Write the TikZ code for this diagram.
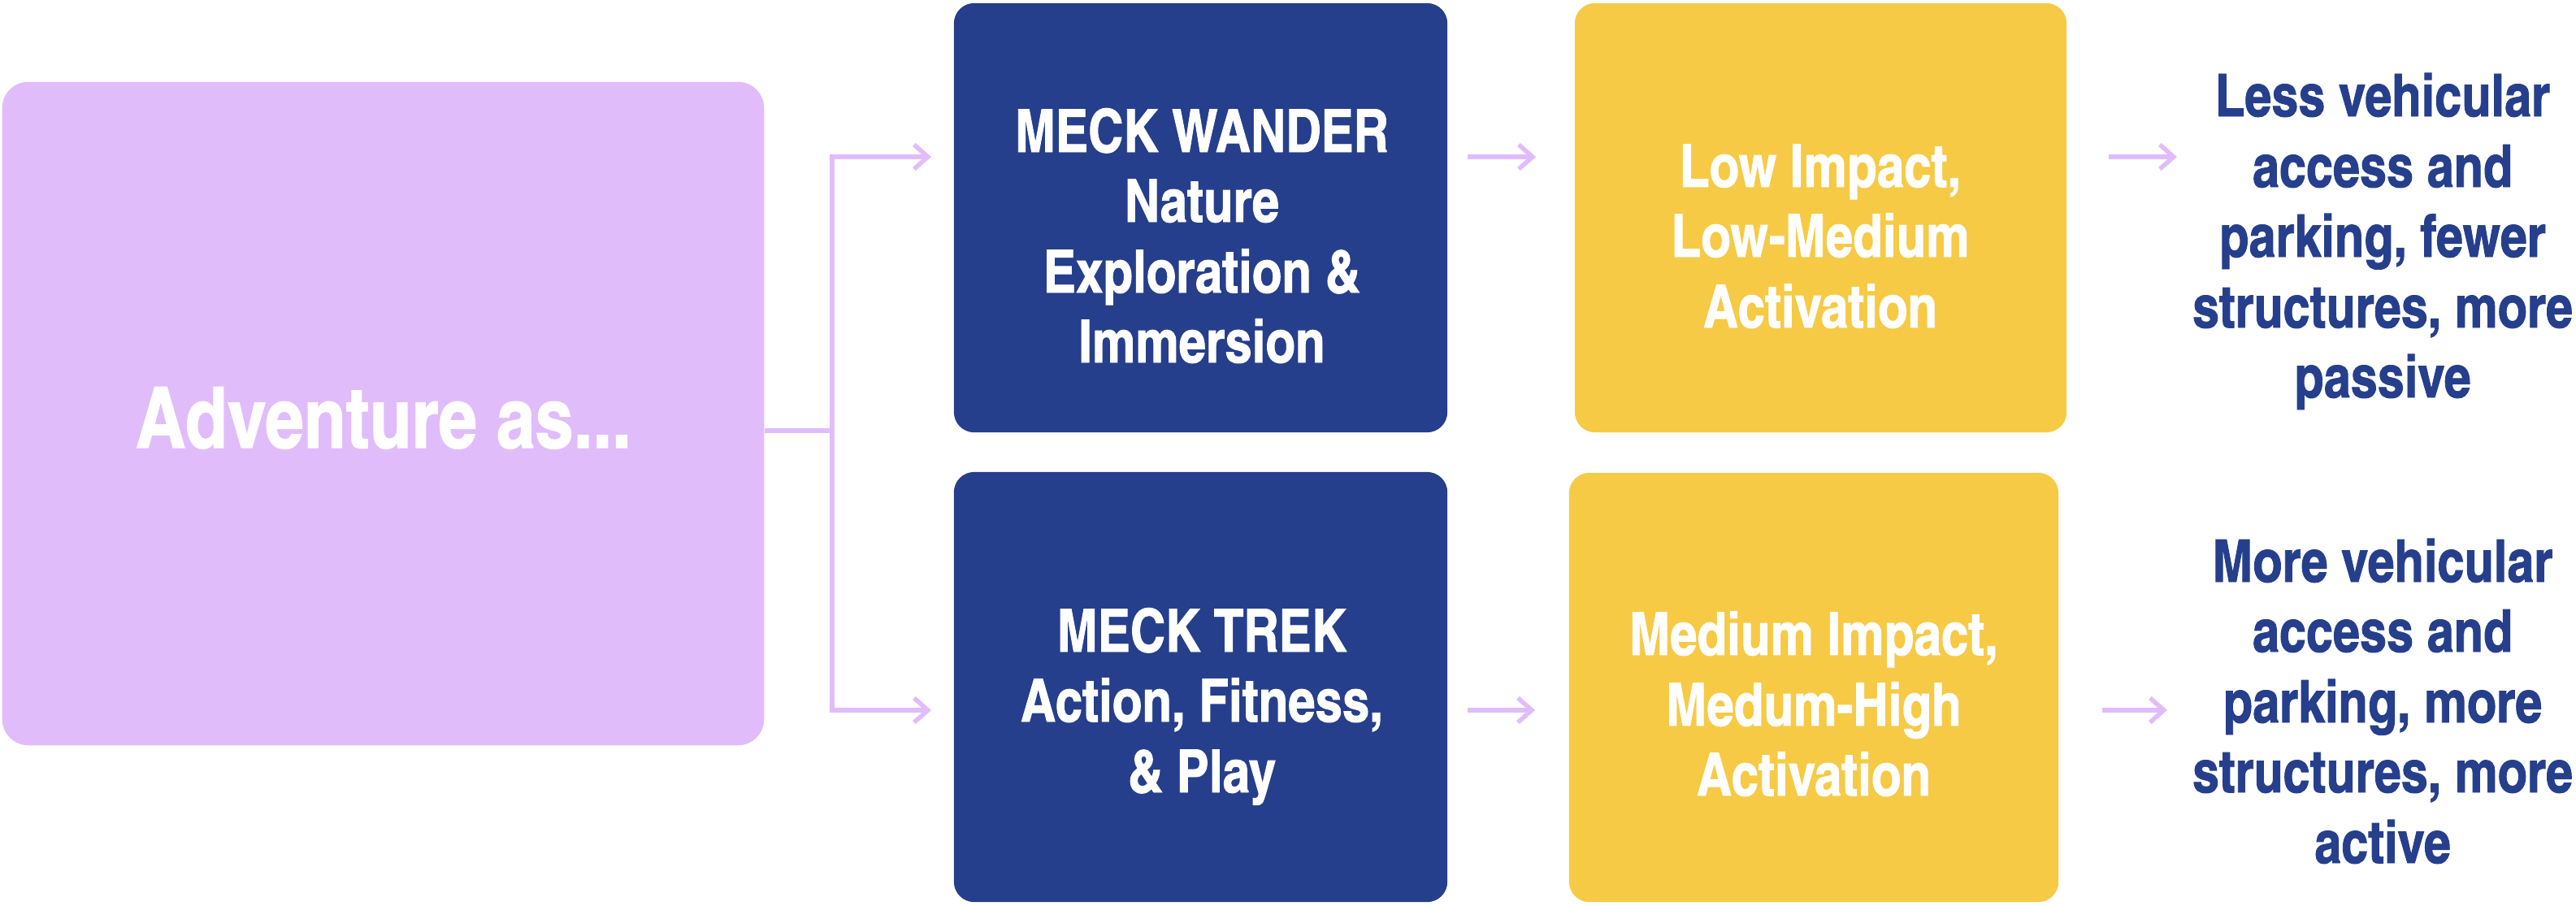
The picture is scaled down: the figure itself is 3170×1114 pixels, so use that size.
\documentclass[tikz,border=0pt]{standalone}
\usepackage{fontspec}
\usetikzlibrary{arrows.meta}
\newfontfamily\cnbold{texgyreheroscn-bold.otf}[FakeBold=1.2]
\definecolor{lilac}{HTML}{E1BCFB}
\definecolor{navy}{HTML}{263F8C}
\definecolor{gold}{HTML}{F6CA45}
\begin{document}
\begin{tikzpicture}[x=0.01cm,y=-0.01cm,
  box/.style={draw=none, rounded corners=0.25cm, inner sep=0pt},
  wtxt/.style={font=\cnbold\fontsize{20.8}{25}\selectfont, text=white, inner sep=0pt, anchor=base},
  btxt/.style={font=\cnbold\fontsize{20.6}{25}\selectfont, text=navy, inner sep=0pt, anchor=base},
  conn/.style={draw=lilac, line width=0.055cm},
  arr/.style={conn, -{Straight Barb[length=0.17cm, width=0.3cm]}}
]
\useasboundingbox (0,0) rectangle (3170,1114);

% boxes
\node[box, fill=lilac, rounded corners=0.32cm, minimum width=9.37cm, minimum height=8.16cm] (adv) at (471.5,509) {};
\node[box, fill=navy, minimum width=6.07cm, minimum height=5.28cm] (wander) at (1477.5,268) {};
\node[box, fill=navy, minimum width=6.07cm, minimum height=5.29cm] (trek) at (1477.5,845.5) {};
\node[box, fill=gold, minimum width=6.05cm, minimum height=5.28cm] (low) at (2240.5,268) {};
\node[box, fill=gold, minimum width=6.02cm, minimum height=5.28cm] (med) at (2232,846) {};

% texts
\node[wtxt, font=\cnbold\fontsize{29.6}{35}\selectfont] (advt) at (472,551) {Adventure as...};

\foreach \t/\yy [count=\i] in {MECK WANDER/187, Nature/273, Exploration \&/360, Immersion/446}
  \node[wtxt] (wander-\i) at (1479,\yy) {\t};
\foreach \t/\yy [count=\i] in {MECK TREK/802, {Action, Fitness,}/888, \& Play/975}
  \node[wtxt] (trek-\i) at (1479,\yy) {\t};
\foreach \t/\yy [count=\i] in {{Low Impact,}/230, Low-Medium/316, Activation/403}
  \node[wtxt] (low-\i) at (2240,\yy) {\t};
\foreach \t/\yy [count=\i] in {{Medium Impact,}/806, Medum-High/893, Activation/979}
  \node[wtxt] (med-\i) at (2232,\yy) {\t};
\foreach \t/\yy [count=\i] in {Less vehicular/143, access and/230, {parking, fewer}/316, {structures, more}/403, passive/489}
  \node[btxt] (less-\i) at (2932,\yy) {\t};
\foreach \t/\yy [count=\i] in {More vehicular/716, access and/802, {parking, more}/889, {structures, more}/975, active/1062}
  \node[btxt] (more-\i) at (2932,\yy) {\t};

% connectors
\coordinate (fork) at (1024,530);
\coordinate (up) at (1146,193);
\coordinate (dn) at (1146,874);
\coordinate (out1) at (2679,193);
\coordinate (out2) at (2667,874);
\draw[conn] (adv.east |- fork) -- (fork);
\draw[arr] (fork) |- (up);
\draw[arr] (fork) |- (dn);
\draw[arr, shorten <=0.24cm, shorten >=0.47cm] (wander.east |- up) -- (low.west |- up);
\draw[arr, shorten <=0.24cm, shorten >=0.41cm] (trek.east |- dn) -- (med.west |- dn);
\draw[arr, shorten <=0.51cm] (low.east |- out1) -- (out1);
\draw[arr, shorten <=0.53cm] (med.east |- out2) -- (out2);
\end{tikzpicture}
\end{document}
